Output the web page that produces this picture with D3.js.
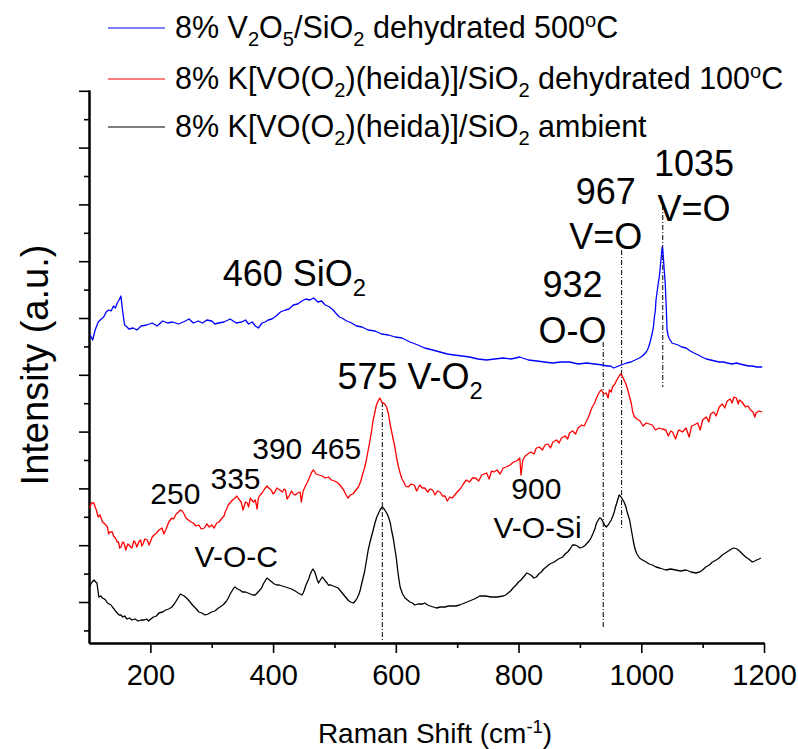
<!DOCTYPE html>
<html>
<head>
<meta charset="utf-8">
<script src="https://cdn.jsdelivr.net/npm/d3@7.9.0/dist/d3.min.js"></script>
<style>
  body { margin: 0; background: #fff; }
  text { font-family: "Liberation Sans", Arial, sans-serif; fill: #000; }
</style>
</head>
<body>
<svg id="chart" width="798" height="749"></svg>
<script>
// ---- spectra: [Raman shift (cm-1), intensity (a.u., stacked)] ----
const dehydrated500 = [
  [102,267],[106,262],[110,272],[115,280],[120,283],[124,285],[128,290],[132,292],[136,291],[140,296],
  [143,294],[146,299],[149,302],[152,306],[155,290],[158,277],[162,275],[165,273],[172,274],[178,272],
  [185,276],[194,277],[203,279],[211,276],[220,281],[228,279],[236,280],[246,278],[257,281],[263,283],
  [270,279],[278,281],[285,279],[292,282],[300,281],[305,278],[311,279],[320,280],[330,283],[340,279],
  [349,280],[355,282],[360,278],[366,280],[371,276],[376,274],[382,279],[387,280],[392,282],[398,283],
  [405,286],[412,290],[420,292],[426,293],[433,297],[440,298],[447,301],[453,303],[460,302],[466,304],
  [473,300],[479,301],[485,297],[492,295],[498,292],[502,289],[505,287],[508,285],[512,284],[520,281],
  [528,279],[536,276],[545,275],[555,272],[566,271],[577,268],[588,267],[599,265],[610,264],[623,260],
  [636,257],[647,254],[660,252],[672,250],[684,248],[695,247],[708,246],[720,245],[734,243],[748,242],
  [761,243],[775,244],[788,243],[802,245],[816,242],[830,241],[842,240],[855,239],[869,240],[883,240],
  [897,238],[911,239],[924,238],[937,237],[944,236],[950,236],[955,234],[959,235],[963,236],[967,237],
  [972,238],[976,239],[983,240],[990,242],[997,244],[1002,246],[1005,248],[1008,250],[1010,252],[1012,255],
  [1014,259],[1016,264],[1018,269],[1020,276],[1021,283],[1023,292],[1024,302],[1026,311],[1028,320],[1030,328],
  [1031,335],[1033,348],[1034,355],[1035,352],[1036,345],[1037,335],[1039,319],[1040,305],[1041,290],[1042,272],
  [1044,266],[1046,263],[1048,261],[1050,259],[1055,258],[1060,257],[1066,255],[1073,254],[1080,251],[1086,249],
  [1093,247],[1099,245],[1106,243],[1113,242],[1120,241],[1127,240],[1134,240],[1140,239],[1148,238],[1155,239],
  [1161,238],[1168,237],[1175,236],[1181,236],[1188,235],[1197,235]
];

const dehydrated100 = [
  [101,94],[104,99],[108,99],[110,95],[112,92],[115,85],[118,87],[122,80],[126,78],[130,75],
  [132,68],[134,70],[138,70],[140,66],[143,64],[146,60],[148,60],[150,54],[152,55],[155,60],
  [157,59],[160,52],[163,58],[165,57],[168,55],[170,54],[173,61],[175,60],[178,55],[181,60],
  [184,62],[186,56],[188,58],[191,63],[195,62],[198,57],[203,65],[206,67],[210,69],[214,72],
  [219,74],[222,68],[225,72],[230,80],[235,84],[238,83],[242,88],[246,90],[249,92],[252,91],
  [255,88],[258,84],[262,82],[266,80],[270,79],[274,76],[279,77],[283,73],[288,74],[292,78],
  [296,75],[300,77],[304,74],[308,79],[312,80],[317,84],[320,86],[322,90],[325,94],[327,97],
  [331,100],[334,102],[338,104],[341,106],[344,103],[348,100],[351,92],[355,100],[358,99],[360,95],
  [363,104],[365,102],[368,100],[371,102],[374,93],[376,104],[379,107],[382,109],[386,113],[390,116],
  [393,114],[397,112],[400,108],[403,110],[406,114],[411,112],[415,110],[418,113],[420,112],[423,103],
  [426,106],[430,111],[433,108],[436,107],[440,109],[444,110],[446,100],[449,111],[452,115],[456,120],
  [459,124],[463,130],[466,132],[470,128],[475,127],[480,126],[485,124],[490,125],[495,122],[500,121],
  [506,119],[510,116],[515,112],[518,108],[522,104],[526,107],[530,108],[535,112],[539,115],[543,121],
  [546,128],[549,134],[552,142],[555,152],[558,162],[561,173],[563,182],[566,190],[568,196],[571,201],
  [574,204],[577,200],[580,199],[583,197],[585,195],[588,188],[590,180],[593,171],[596,162],[599,153],
  [601,145],[604,136],[607,129],[610,123],[613,120],[616,116],[620,115],[625,118],[630,117],[634,111],
  [639,117],[643,114],[647,114],[652,110],[656,113],[660,112],[664,107],[668,111],[672,110],[676,106],
  [680,106],[684,101],[688,105],[692,104],[696,107],[700,110],[705,113],[710,118],[715,122],[720,120],
  [725,124],[730,124],[735,121],[740,127],[748,129],[752,123],[756,131],[760,130],[765,132],[770,128],
  [775,134],[780,135],[786,137],[792,140],[797,141],[802,144],[804,127],[807,142],[811,146],[815,148],
  [820,150],[825,148],[829,154],[834,155],[839,152],[843,157],[848,158],[852,154],[856,160],[862,162],
  [866,159],[870,164],[876,166],[880,163],[883,169],[888,171],[893,168],[897,174],[903,177],[907,176],
  [910,180],[914,185],[917,190],[920,195],[924,199],[927,204],[930,208],[933,211],[935,212],[939,208],
  [943,209],[946,204],[948,212],[951,210],[953,215],[957,218],[960,222],[963,225],[966,228],[969,226],
  [972,222],[975,218],[978,212],[981,205],[984,198],[986,190],[989,185],[993,183],[998,181],[1003,176],
  [1008,179],[1013,178],[1018,177],[1023,172],[1029,174],[1034,173],[1040,172],[1044,166],[1048,171],[1051,170],
  [1056,163],[1060,171],[1062,172],[1067,170],[1073,174],[1078,165],[1082,176],[1086,177],[1092,179],[1096,172],
  [1100,182],[1106,185],[1110,180],[1113,188],[1118,190],[1122,186],[1127,195],[1132,198],[1136,194],[1140,201],
  [1145,203],[1148,199],[1151,205],[1155,204],[1158,198],[1160,202],[1164,200],[1170,195],[1174,196],[1178,192],
  [1182,190],[1185,185],[1187,189],[1192,191],[1197,190]
];

const ambient = [
  [101,15],[103,18],[105,20],[108,22],[111,20],[113,19],[116,5],[119,6],[122,4],[125,3],
  [127,2],[130,-1],[133,-2],[136,-3],[138,-5],[141,-7],[143,-9],[146,-11],[149,-13],[152,-13],
  [155,-15],[158,-14],[162,-17],[166,-16],[170,-18],[175,-17],[180,-19],[185,-18],[190,-18],[194,-17],
  [197,-19],[201,-17],[205,-15],[210,-14],[214,-11],[220,-10],[225,-8],[230,-7],[235,-5],[239,-2],
  [242,1],[246,5],[249,8],[252,7],[255,6],[259,4],[262,2],[266,-1],[270,-4],[275,-7],
  [279,-10],[284,-11],[289,-13],[294,-12],[300,-10],[305,-9],[311,-6],[316,-4],[320,-2],[324,1],
  [327,4],[330,8],[333,11],[336,14],[338,15],[342,13],[346,12],[350,10],[355,10],[359,9],
  [363,8],[367,7],[371,7],[374,9],[377,11],[380,13],[382,15],[384,18],[386,20],[388,22],
  [390,24],[394,22],[398,20],[402,18],[406,17],[410,17],[415,16],[420,15],[425,14],[430,13],
  [436,11],[441,9],[447,7],[449,9],[451,12],[453,16],[455,19],[458,23],[460,27],[463,31],
  [465,33],[468,30],[470,26],[472,22],[474,19],[476,21],[477,22],[479,24],[480,25],[483,23],
  [485,21],[488,19],[490,17],[494,17],[498,16],[502,15],[506,14],[510,11],[514,8],[518,5],
  [522,2],[526,0],[531,-1],[534,1],[537,4],[540,8],[542,12],[545,20],[549,30],[552,41],
  [555,52],[558,60],[561,67],[564,74],[566,79],[569,85],[572,89],[575,93],[578,95],[581,93],
  [583,91],[586,88],[588,85],[591,79],[593,72],[596,63],[598,55],[601,43],[603,32],[605,23],
  [607,15],[611,8],[615,4],[619,2],[623,0],[627,-1],[631,-3],[636,-2],[640,-2],[644,-2],
  [647,-1],[652,-3],[656,-4],[661,-5],[666,-6],[673,-5],[680,-5],[686,-4],[692,-4],[698,-4],
  [704,-3],[712,-1],[720,1],[728,3],[737,6],[746,6],[755,5],[765,5],[775,6],[779,7],
  [783,9],[787,11],[791,14],[796,17],[800,20],[804,22],[808,25],[811,27],[813,29],[817,28],
  [820,27],[825,24],[829,25],[833,28],[837,30],[841,33],[845,35],[851,38],[858,40],[865,43],
  [872,45],[876,48],[880,50],[884,53],[888,57],[892,57],[896,56],[900,54],[905,55],[909,57],
  [912,59],[915,61],[918,64],[921,68],[923,71],[925,74],[926,77],[928,80],[930,82],[932,84],
  [933,84],[935,83],[938,80],[940,77],[943,75],[946,77],[948,79],[951,82],[953,85],[956,90],
  [958,95],[961,101],[964,107],[966,106],[968,104],[970,102],[972,100],[975,95],[977,90],[979,86],
  [981,82],[983,75],[985,68],[987,61],[989,55],[991,51],[993,48],[995,46],[997,44],[1002,42],
  [1008,40],[1013,38],[1018,37],[1024,35],[1030,34],[1035,33],[1040,32],[1048,33],[1056,32],[1064,31],
  [1073,32],[1081,30],[1089,29],[1095,30],[1100,32],[1105,35],[1111,37],[1116,40],[1122,42],[1127,44],
  [1132,47],[1137,49],[1142,51],[1147,53],[1151,54],[1156,53],[1160,51],[1165,48],[1170,45],[1175,43],
  [1181,40],[1185,41],[1188,42],[1192,43],[1195,44]
];

// legend / series
const seriesNames = [
  "8% V_2O_5/SiO_2 dehydrated 500^oC",
  "8% K[VO(O_2)(heida)]/SiO_2 dehydrated 100^oC",
  "8% K[VO(O_2)(heida)]/SiO_2 ambient"
];
const seriesData = [dehydrated500, dehydrated100, ambient];
const seriesColors = ["#0000ff", "#ff0000", "#000000"];

// dash-dot peak markers
const markShift = [578, 938, 968, 1035];
const markTop = [200, 260, 352, 397];
const markBottom = [-38, -25, 72, 215];

// peak labels: [text, shift, intensity, anchor]
const bigLabels = [
  ["460 SiO_2", 318, 316, "start"],
  ["575 V-O_2", 505, 213, "start"],
  ["932", 888, 305, "middle"],
  ["O-O", 888, 259, "middle"],
  ["967", 942, 398, "middle"],
  ["V=O", 942, 353, "middle"],
  ["1035", 1086, 426, "middle"],
  ["V=O", 1086, 381, "middle"]
];
const smallLabels = [
  ["250", 200, 98, "start"],
  ["335", 298, 113, "start"],
  ["390", 366, 143, "start"],
  ["465", 462, 143, "start"],
  ["900", 829, 103, "middle"],
  ["V-O-Si", 831, 64, "middle"],
  ["V-O-C", 272, 35, "start"]
];

const xTicks = [200, 400, 600, 800, 1000, 1200];
const xMinor = [300, 500, 700, 900, 1100];
const yTicks = d3.range(10).map((i) => i * 56.8);
const yMinor = d3.range(-1, 9).map((i) => i * 56.8 + 28.4);

// ---- layout ----
const svg = d3.select("#chart");
const plot = { left: 89, right: 764, top: 90, bottom: 643 };

const x = d3.scaleLinear().domain([100, 1200]).range([plot.left, plot.right]);
const y = d3.scaleLinear().domain([-41, 512]).range([plot.bottom, plot.top]);

// rich text: _x subscript, ^x / ^{..} superscript
function richText(sel, str, size) {
  const parts = str.split(/([_^](?:\{[^}]*\}|.))/).filter((s) => s !== "");
  let shift = 0;
  parts.forEach((p) => {
    if (p[0] === "_" || p[0] === "^") {
      const body = p.slice(1).replace(/[{}]/g, "");
      const d = p[0] === "_" ? size * 0.28 : -size * 0.36;
      sel.append("tspan").attr("dy", d - shift).attr("font-size", size * 0.66).text(body);
      shift = d;
    } else {
      sel.append("tspan").attr("dy", -shift).attr("font-size", size).text(p);
      shift = 0;
    }
  });
}

// axes
const axisStyle = (g) => {
  g.selectAll("path.domain").attr("stroke-width", 2);
  g.selectAll(".tick line").attr("stroke-width", 1.6);
};

svg.append("g")
  .attr("transform", `translate(0,${plot.bottom})`)
  .call(d3.axisBottom(x).tickValues(xMinor).tickSize(5).tickSizeOuter(0).tickFormat(""))
  .call(axisStyle);

const xAxis = svg.append("g")
  .attr("transform", `translate(0,${plot.bottom})`)
  .call(d3.axisBottom(x).tickValues(xTicks).tickSize(10).tickSizeOuter(0).tickPadding(11)
    .tickFormat(d3.format("d")))
  .call(axisStyle);
xAxis.selectAll("text").attr("font-size", 29).attr("font-family", "Liberation Sans, Arial, sans-serif");

svg.append("g")
  .attr("transform", `translate(${plot.left},0)`)
  .call(d3.axisLeft(y).tickValues(yMinor).tickSize(5).tickSizeOuter(0).tickFormat(""))
  .call(axisStyle);
svg.append("g")
  .attr("transform", `translate(${plot.left},0)`)
  .call(d3.axisLeft(y).tickValues(yTicks).tickSize(10).tickSizeOuter(0).tickFormat(""))
  .call(axisStyle);

// axis titles
const xTitle = svg.append("text").attr("x", 435).attr("y", 743).attr("text-anchor", "middle");
richText(xTitle, "Raman Shift (cm^{-1})", 28);

svg.append("text")
  .attr("transform", "translate(48,365) rotate(-90)")
  .attr("text-anchor", "middle")
  .attr("font-size", 38)
  .text("Intensity (a.u.)");

// peak marker lines
svg.append("g").selectAll("line")
  .data(markShift)
  .join("line")
  .attr("x1", (d) => x(d)).attr("x2", (d) => x(d))
  .attr("y1", (d, i) => y(markTop[i])).attr("y2", (d, i) => y(markBottom[i]))
  .attr("stroke", "#000").attr("stroke-width", 1)
  .attr("stroke-dasharray", "5,2,1,2");

// spectra
const line = d3.line().x((d) => x(d[0])).y((d) => y(d[1]));
svg.append("g").selectAll("path")
  .data(seriesData)
  .join("path")
  .attr("d", line)
  .attr("fill", "none")
  .attr("stroke", (d, i) => seriesColors[i])
  .attr("stroke-width", 1.3)
  .attr("stroke-linejoin", "round");

// peak labels
bigLabels.forEach(([t, sx, sy, anchor]) => {
  const el = svg.append("text").attr("x", x(sx)).attr("y", y(sy)).attr("text-anchor", anchor);
  richText(el, t, 36);
});
smallLabels.forEach(([t, sx, sy, anchor]) => {
  svg.append("text").attr("x", x(sx)).attr("y", y(sy)).attr("text-anchor", anchor)
    .attr("font-size", 30).text(t);
});

// legend
const legend = svg.append("g");
const legendY = [28, 79, 127];
seriesNames.forEach((name, i) => {
  legend.append("line")
    .attr("x1", 108).attr("x2", 165).attr("y1", legendY[i]).attr("y2", legendY[i])
    .attr("stroke", seriesColors[i]).attr("stroke-width", 1.2);
  const t = legend.append("text").attr("x", 175).attr("y", legendY[i] + 9.5);
  richText(t, name, 30.5);
});
</script>
</body>
</html>
